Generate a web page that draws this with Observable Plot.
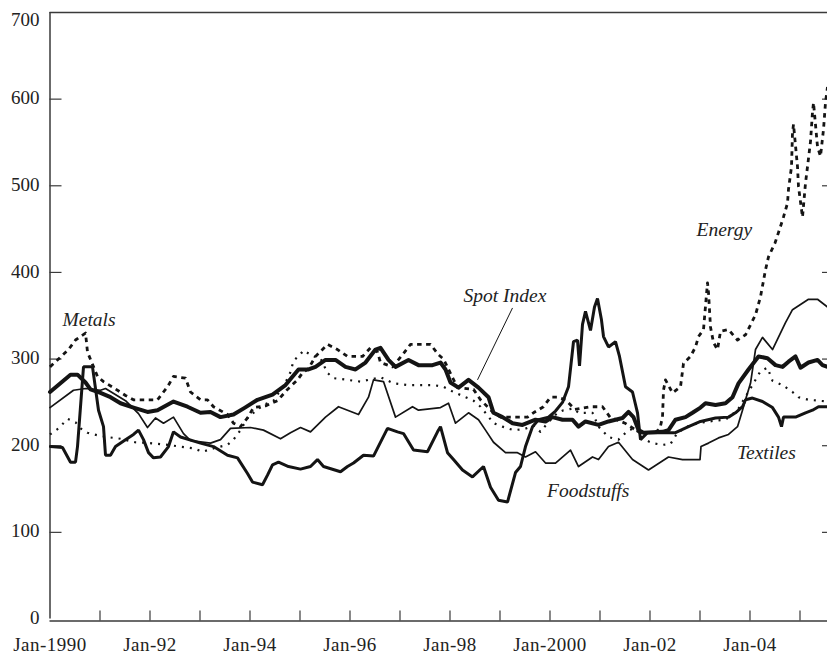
<!DOCTYPE html>
<html><head><meta charset="utf-8">
<script src="https://cdn.jsdelivr.net/npm/d3@7"></script>
<script src="https://cdn.jsdelivr.net/npm/@observablehq/plot@0.6"></script>
<style>body{margin:0;background:#fff}</style>
</head><body><div id="chart"></div>
<script>
// decimal year, index value
const spotIndex = [[1990.00,262],[1990.41,282],[1990.55,282],[1990.71,273],[1990.81,265],[1991.01,261],[1991.21,256],[1991.41,249],[1991.67,244],[1991.95,239],[1992.15,241],[1992.47,251],[1992.75,245],[1993.01,238],[1993.21,239],[1993.41,233],[1993.67,236],[1993.90,244],[1994.15,253],[1994.45,259],[1994.71,270],[1994.97,288],[1995.17,288],[1995.31,291],[1995.51,299],[1995.71,299],[1995.91,291],[1996.11,288],[1996.31,296],[1996.51,311],[1996.61,313],[1996.77,299],[1996.91,291],[1997.17,299],[1997.37,293],[1997.65,293],[1997.81,296],[1997.91,288],[1998.01,273],[1998.17,267],[1998.37,276],[1998.57,267],[1998.77,256],[1998.87,238],[1999.05,233],[1999.25,226],[1999.45,224],[1999.71,230],[1999.91,228],[2000.05,233],[2000.25,230],[2000.45,230],[2000.57,222],[2000.71,228],[2000.97,224],[2001.17,228],[2001.45,232],[2001.57,239],[2001.67,233],[2001.77,218],[2001.87,215],[2002.25,216],[2002.37,218],[2002.51,230],[2002.71,233],[2002.85,238],[2003.01,244],[2003.11,249],[2003.31,247],[2003.51,249],[2003.65,256],[2003.77,272],[2003.97,288],[2004.17,303],[2004.35,301],[2004.51,293],[2004.65,291],[2004.77,297],[2004.91,303],[2005.01,290],[2005.17,296],[2005.35,299],[2005.45,293],[2005.55,291]];

const textiles = [[1990.01,199],[1990.25,198],[1990.41,181],[1990.51,181],[1990.55,199],[1990.67,291],[1990.85,291],[1990.97,241],[1991.07,222],[1991.11,189],[1991.21,189],[1991.31,199],[1991.51,207],[1991.67,213],[1991.77,218],[1991.87,207],[1991.97,192],[1992.07,186],[1992.21,187],[1992.37,199],[1992.47,216],[1992.61,210],[1993.01,203],[1993.27,199],[1993.55,189],[1993.75,186],[1993.95,168],[1994.05,158],[1994.25,155],[1994.35,166],[1994.45,178],[1994.57,181],[1994.77,176],[1995.01,173],[1995.21,176],[1995.35,184],[1995.47,176],[1995.81,170],[1995.95,176],[1996.07,180],[1996.27,189],[1996.47,188],[1996.75,220],[1996.95,216],[1997.07,214],[1997.27,195],[1997.55,193],[1997.75,216],[1997.81,222],[1997.95,192],[1998.07,184],[1998.25,172],[1998.45,164],[1998.67,176],[1998.81,152],[1998.97,137],[1999.15,135],[1999.31,169],[1999.41,176],[1999.51,199],[1999.65,222],[1999.77,230],[1999.97,233],[2000.11,240],[2000.25,250],[2000.37,268],[2000.47,320],[2000.55,322],[2000.59,292],[2000.65,340],[2000.71,355],[2000.81,333],[2000.89,360],[2000.95,370],[2001.03,345],[2001.07,326],[2001.17,314],[2001.31,320],[2001.39,303],[2001.51,268],[2001.65,262],[2001.75,238],[2001.81,207],[2001.95,215],[2002.35,215],[2002.51,215],[2002.77,222],[2003.01,228],[2003.31,232],[2003.57,233],[2003.71,238],[2003.85,245],[2003.91,253],[2004.05,255],[2004.25,251],[2004.45,244],[2004.57,233],[2004.63,222],[2004.67,233],[2004.91,233],[2005.11,238],[2005.25,241],[2005.37,245],[2005.55,245]];

const foodstuffs = [[1990.00,244],[1990.47,264],[1990.71,266],[1991.01,264],[1991.11,266],[1991.51,252],[1991.77,237],[1991.95,221],[1992.11,232],[1992.27,226],[1992.47,233],[1992.67,214],[1992.81,206],[1993.21,203],[1993.41,207],[1993.61,220],[1994.01,221],[1994.27,218],[1994.61,208],[1994.81,215],[1995.01,221],[1995.21,216],[1995.51,233],[1995.77,245],[1996.17,236],[1996.37,256],[1996.47,276],[1996.67,274],[1996.91,233],[1997.25,245],[1997.37,241],[1997.81,244],[1997.97,249],[1998.11,226],[1998.37,238],[1998.57,230],[1998.71,218],[1998.87,204],[1999.11,192],[1999.35,192],[1999.51,187],[1999.71,193],[1999.91,180],[2000.11,180],[2000.41,195],[2000.57,176],[2000.85,187],[2000.97,184],[2001.17,199],[2001.37,204],[2001.65,184],[2001.97,172],[2002.37,187],[2002.65,184],[2003.00,184],[2003.02,199],[2003.17,203],[2003.37,209],[2003.57,213],[2003.75,222],[2003.85,241],[2003.91,253],[2004.01,272],[2004.11,311],[2004.25,325],[2004.45,311],[2004.71,342],[2004.85,357],[2005.17,369],[2005.35,369],[2005.55,360]];

const energy = [[1990.00,291],[1990.17,300],[1990.37,311],[1990.51,322],[1990.71,330],[1990.75,308],[1990.95,280],[1991.07,274],[1991.27,267],[1991.51,258],[1991.67,253],[1992.15,253],[1992.35,268],[1992.47,280],[1992.71,278],[1992.81,262],[1993.01,253],[1993.15,253],[1993.27,245],[1993.55,236],[1993.67,226],[1993.81,222],[1993.95,232],[1994.07,244],[1994.31,246],[1994.55,252],[1994.75,265],[1994.95,276],[1995.05,284],[1995.17,289],[1995.31,303],[1995.55,317],[1995.75,311],[1995.95,303],[1996.25,303],[1996.41,313],[1996.55,308],[1996.61,296],[1996.85,291],[1997.05,305],[1997.21,317],[1997.61,317],[1997.77,305],[1997.87,300],[1998.15,267],[1998.47,265],[1998.61,253],[1998.87,238],[1999.01,233],[1999.55,233],[1999.67,238],[1999.87,245],[2000.01,256],[2000.15,256],[2000.31,253],[2000.50,242],[2000.80,245],[2001.05,245],[2001.20,233],[2001.50,226],[2001.80,215],[2002.10,215],[2002.20,220],[2002.25,233],[2002.27,264],[2002.31,276],[2002.45,261],[2002.61,268],[2002.67,295],[2002.81,303],[2002.91,314],[2002.97,326],[2003.07,334],[2003.15,388],[2003.17,377],[2003.21,337],[2003.27,319],[2003.35,311],[2003.41,332],[2003.57,334],[2003.75,322],[2003.91,328],[2004.11,351],[2004.21,372],[2004.31,403],[2004.37,418],[2004.50,434],[2004.61,453],[2004.67,464],[2004.75,480],[2004.77,496],[2004.83,522],[2004.85,561],[2004.87,571],[2004.95,522],[2004.97,499],[2005.05,464],[2005.11,503],[2005.15,522],[2005.21,551],[2005.25,585],[2005.27,596],[2005.35,545],[2005.41,534],[2005.47,565],[2005.51,596],[2005.55,614]];

const metals = [[1990.00,213],[1990.17,220],[1990.35,231],[1990.51,227],[1990.61,220],[1990.75,215],[1990.95,212],[1991.15,210],[1991.41,208],[1991.70,204],[1992.00,203],[1992.35,201],[1992.60,199],[1992.87,197],[1993.05,193],[1993.27,197],[1993.55,201],[1993.67,207],[1993.81,218],[1993.95,232],[1994.07,238],[1994.27,247],[1994.47,252],[1994.71,273],[1994.81,285],[1994.87,298],[1995.00,305],[1995.07,310],[1995.27,303],[1995.41,301],[1995.55,284],[1995.67,278],[1995.95,276],[1996.21,274],[1996.61,279],[1996.87,272],[1997.15,270],[1997.41,270],[1997.67,270],[1997.87,268],[1998.07,262],[1998.27,257],[1998.47,252],[1998.61,245],[1998.75,235],[1998.87,226],[1999.05,222],[1999.27,218],[1999.47,219],[1999.67,223],[1999.81,216],[1999.95,226],[2000.15,238],[2000.27,241],[2000.47,243],[2000.57,238],[2000.85,238],[2000.97,222],[2001.17,210],[2001.37,207],[2001.57,218],[2001.71,220],[2001.85,208],[2002.05,203],[2002.25,201],[2002.41,202],[2002.55,215],[2002.75,222],[2002.95,226],[2003.31,229],[2003.51,230],[2003.75,241],[2004.07,272],[2004.21,286],[2004.35,290],[2004.45,275],[2004.65,270],[2004.85,262],[2004.97,256],[2005.17,253],[2005.55,251]];

const yTickValues = [0, 100, 200, 300, 400, 500, 600, 700];
const xLabelYears = [1990, 1992, 1994, 1996, 1998, 2000, 2002, 2004];
const xTickLabels = ["Jan-1990", "Jan-92", "Jan-94", "Jan-96", "Jan-98", "Jan-2000", "Jan-02", "Jan-04"];
const xMinorYears = [1991,1992,1993,1994,1995,1996,1997,1998,1999,2000,2001,2002,2003,2004,2005];

const seriesLabels = [
  {label: "Metals", x: 1990.25, y: 345},
  {label: "Spot Index", x: 1998.27, y: 373},
  {label: "Energy", x: 2002.93, y: 449},
  {label: "Textiles", x: 2003.74, y: 192},
  {label: "Foodstuffs", x: 1999.94, y: 148}
];
const leader = [{x1: 1999.25, y1: 359, x2: 1998.55, y2: 276}];

const toRows = arr => arr.map(([t, v]) => ({t, v}));
const ink = "#141414";
const axisColor = "#3a3a3a";
const W = 827, H = 655, mL = 49.5, mR = 0, mT = 12, mB = 36.5;
const plotW = W - mL - mR, plotH = H - mT - mB;

const chart = Plot.plot({
  width: W, height: H,
  marginLeft: mL, marginRight: mR, marginTop: mT, marginBottom: mB,
  x: {domain: [1990, 2005.55], axis: null},
  y: {domain: [0, 700], axis: null},
  style: {fontFamily: "'Liberation Serif', 'DejaVu Serif', serif", background: "#fff", color: "#222", overflow: "visible"},
  marks: [
    Plot.ruleY([700], {stroke: axisColor, strokeWidth: 1.3}),
    Plot.ruleY([0], {stroke: axisColor, strokeWidth: 1.5, dy: 2}),
    Plot.ruleX([1990], {stroke: axisColor, strokeWidth: 1.5}),
    Plot.ruleY(yTickValues.filter(v => v > 0 && v < 700), {stroke: axisColor, strokeWidth: 1.2, insetRight: plotW - 12}),
    Plot.ruleY(yTickValues.filter(v => v > 0 && v < 700), {stroke: axisColor, strokeWidth: 1.2, insetLeft: plotW - 5}),
    Plot.ruleX(xMinorYears, {stroke: axisColor, strokeWidth: 1.2, insetTop: plotH - 10, dy: 2}),
    Plot.axisY({ticks: yTickValues.filter(v => v < 700), tickSize: 0, tickPadding: 10.5, fontSize: 19, dy: -1}),
    Plot.axisY({ticks: [700], tickSize: 0, tickPadding: 10.5, fontSize: 19, dy: 7}),
    Plot.axisX({ticks: xLabelYears, tickFormat: d => xTickLabels[xLabelYears.indexOf(d)], tickSize: 0, tickPadding: 18, fontSize: 19}),
    Plot.line(toRows(foodstuffs), {x: "t", y: "v", stroke: ink, strokeWidth: 1.7}),
    Plot.line(toRows(metals), {x: "t", y: "v", stroke: ink, strokeWidth: 2.2, strokeDasharray: "2,6", strokeLinecap: "butt"}),
    Plot.line(toRows(energy), {x: "t", y: "v", stroke: ink, strokeWidth: 2.8, strokeDasharray: "4.5,4.5", strokeLinecap: "butt"}),
    Plot.line(toRows(textiles), {x: "t", y: "v", stroke: ink, strokeWidth: 3, strokeLinejoin: "miter"}),
    Plot.line(toRows(spotIndex), {x: "t", y: "v", stroke: ink, strokeWidth: 4}),
    Plot.link(leader, {x1: "x1", y1: "y1", x2: "x2", y2: "y2", stroke: ink, strokeWidth: 1}),
    Plot.text(seriesLabels, {x: "x", y: "y", text: "label", textAnchor: "start", lineAnchor: "middle", fontStyle: "italic", fontSize: 19.5, fill: "#222"})
  ]
});
document.getElementById("chart").appendChild(chart);
d3.select(chart).selectAll('g[aria-label="x-axis tick label"] text').attr("letter-spacing", "0.5");
</script>
</body></html>
